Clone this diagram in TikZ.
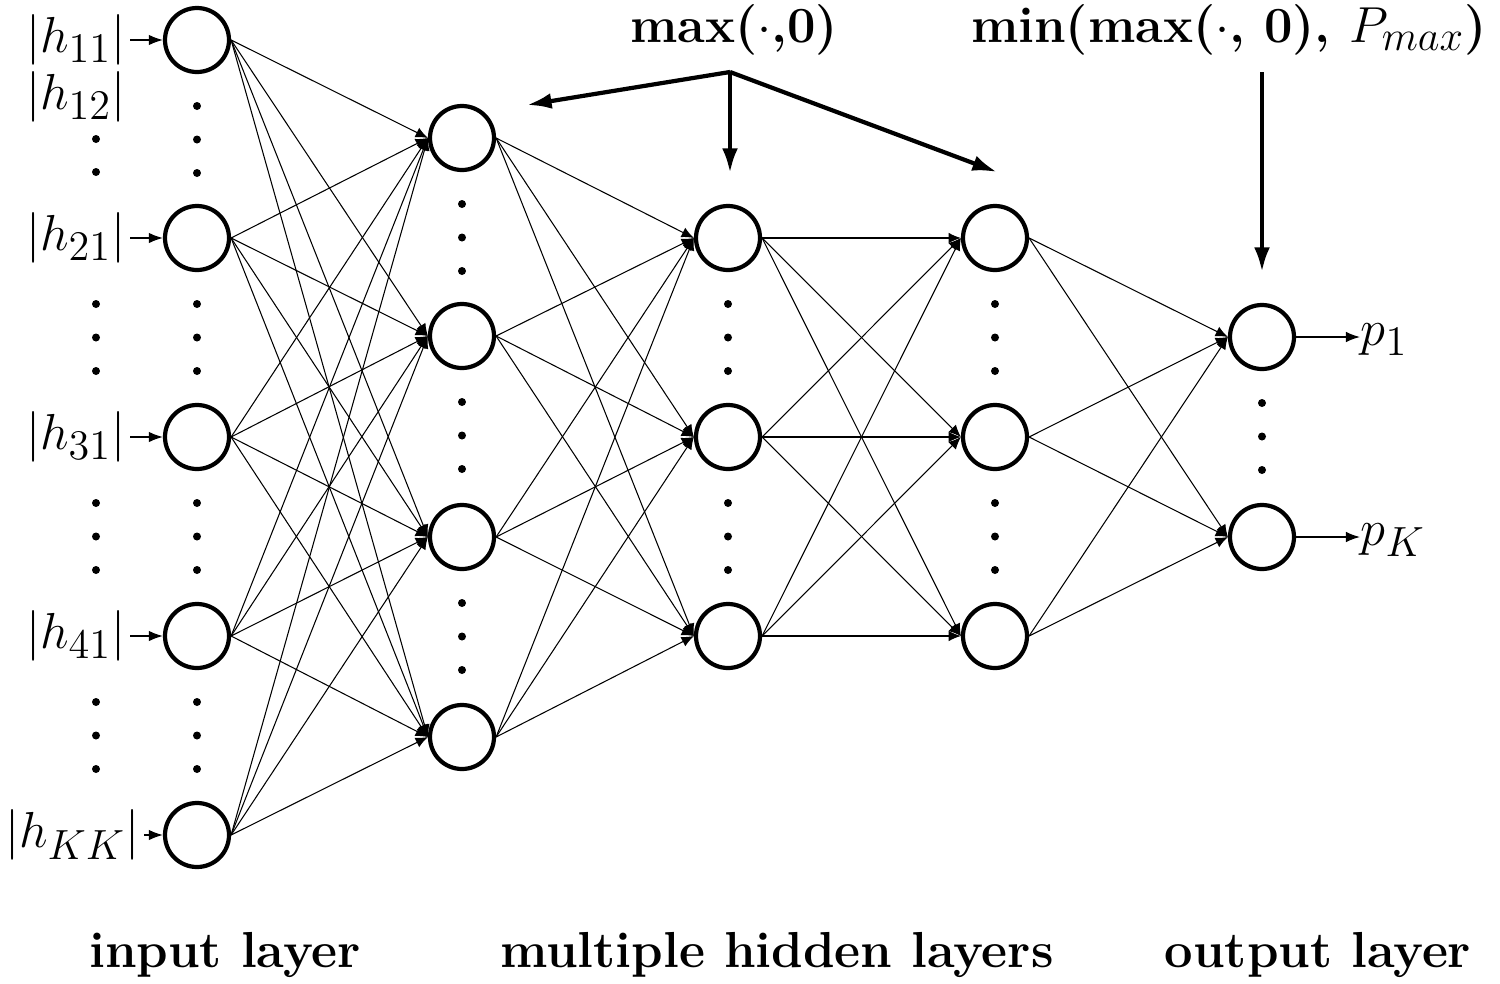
\documentclass[tikz,border=0pt]{standalone}
\usepackage{amsmath}
\usetikzlibrary{arrows.meta}
\newcommand{\lsub}[1]{_{\mbox{\large$#1$}}}
\tikzset{
    neuron/.style={
        draw=black,
        circle,
        line width=1.2pt,
        minimum size=0.64cm,
        inner sep=0pt
    },
    synapse/.style={
        -{Latex[length=3.5pt,width=3pt]},
        line width=0.3pt
    },
    feed/.style={
        -{Latex[length=4pt,width=3pt]},
        line width=0.4pt
    },
    activation/.style={
        -{Latex[length=7pt,width=4.5pt]},
        line width=1.2pt
    },
    caption/.style={
        font=\Large\bfseries,
        inner sep=1pt
    },
    inlabel/.style={
        anchor=east,
        inner sep=1pt,
        font=\Large
    }
}

\begin{document}
\begin{tikzpicture}
            % Help lines :
            % \draw [help lines] (0,0) grid (15,-10);
            \useasboundingbox (0,0) rectangle (15,-9.84);

            % Neurons
            \foreach \i/\y in {1/-0.40, 2/-2.38, 3/-4.37, 4/-6.36, 5/-8.35}
                \node (in\i) [neuron] at (1.97,\y) {};
            \foreach \i/\y in {1/-1.38, 2/-3.36, 3/-5.37, 4/-7.37}
                \node (hA\i) [neuron] at (4.62,\y) {};
            \foreach \i/\y in {1/-2.38, 2/-4.37, 3/-6.36} {
                \node (hB\i) [neuron] at (7.28,\y) {};
                \node (hC\i) [neuron] at (9.95,\y) {};
            }
            \node (out1) [neuron] at (12.62,-3.37) {};
            \node (out2) [neuron] at (12.62,-5.37) {};

            % Vertical dots
            \foreach \x/\y in {1.97/-0.40, 1.97/-2.38, 1.97/-4.37, 1.97/-6.36,
                               4.62/-1.38, 4.62/-3.36, 4.62/-5.37,
                               7.28/-2.38, 7.28/-4.37, 9.95/-2.38, 9.95/-4.37,
                               12.62/-3.37, 0.96/-2.38, 0.96/-4.37, 0.96/-6.36}
                \foreach \k in {0.66, 0.995, 1.33}
                    \fill (\x,\y-\k) circle (0.04);
            \fill (0.96,-1.39) circle (0.04);
            \fill (0.96,-1.72) circle (0.04);

            % Inputs
            \node (h11) [inlabel] at (1.30,-0.40) {$|h\lsub{11}|$};
            \node (h12) [inlabel] at (1.30,-0.97) {$|h\lsub{12}|$};
            \node (h21) [inlabel] at (1.30,-2.38) {$|h\lsub{21}|$};
            \node (h31) [inlabel] at (1.30,-4.37) {$|h\lsub{31}|$};
            \node (h41) [inlabel] at (1.30,-6.36) {$|h\lsub{41}|$};
            \node (hKK) [inlabel] at (1.44,-8.35) {$|h\lsub{KK}|$};
            \path [feed]
                (h11) edge (in1)
                (h21) edge (in2)
                (h31) edge (in3)
                (h41) edge (in4)
                (hKK) edge (in5)
            ;

            % Outputs
            \node (p1) [anchor=west, inner sep=0pt, font=\Large] at (13.60,-3.40) {$p\lsub{1}$};
            \node (pK) [anchor=west, inner sep=0pt, font=\Large] at (13.60,-5.40) {$p\lsub{K}$};
            \path [feed]
                (out1) edge (out1 -| p1.west)
                (out2) edge (out2 -| pK.west)
            ;

            % Connections
            \foreach \i in {1,...,5}
                \foreach \j in {1,...,4}
                    \draw [synapse] (in\i.east) -- (hA\j.west);
            \foreach \i in {1,...,4}
                \foreach \j in {1,...,3}
                    \draw [synapse] (hA\i.east) -- (hB\j.west);
            \foreach \i in {1,...,3} {
                \foreach \j in {1,...,3}
                    \draw [synapse] (hB\i.east) -- (hC\j.west);
                \foreach \j in {1,2}
                    \draw [synapse] (hC\i.east) -- (out\j.west);
            }

            % Activations
            \node (relu) [caption] at (7.34,-0.30) {max($\cdot$,0)};
            \node (clip) [caption] at (12.29,-0.30) {min(max($\cdot$, 0), $P\lsub{max}$)};
            \coordinate (fork) at (7.30,-0.72);
            \coordinate (forkA) at (5.27,-1.05);
            \coordinate (forkB) at (7.30,-1.73);
            \coordinate (forkC) at (9.97,-1.72);
            \coordinate (clipTop) at (12.62,-0.72);
            \coordinate (clipEnd) at (12.62,-2.72);
            \path [activation]
                (fork) edge (forkA)
                (fork) edge (forkB)
                (fork) edge (forkC)
                (clipTop) edge (clipEnd)
            ;

            % Layer names
            \node (inName) [caption] at (2.25,-9.55) {input layer};
            \node (hidName) [caption] at (7.77,-9.55) {multiple hidden layers};
            \node (outName) [caption] at (13.18,-9.55) {output layer};
        \end{tikzpicture}
\end{document}
